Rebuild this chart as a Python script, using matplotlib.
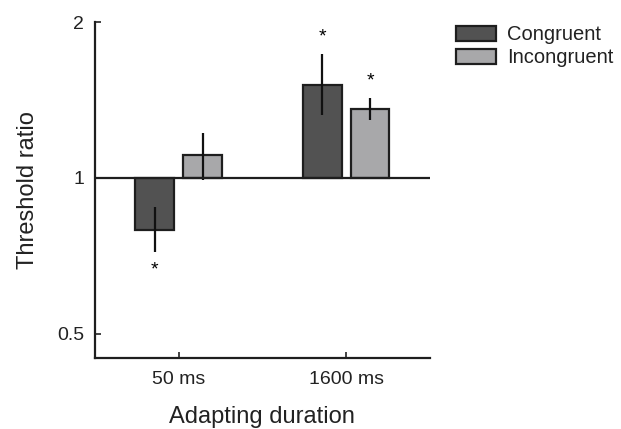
import matplotlib
matplotlib.use("Agg")
import matplotlib.pyplot as plt
import numpy as np
from matplotlib.patches import Patch

durations = ["50 ms", "1600 ms"]
conditions = ["Congruent", "Incongruent"]
congruent = [0.794, 1.512]
incongruent = [1.107, 1.359]
congruent_err_lo = [0.720, 1.323]
congruent_err_hi = [0.879, 1.735]
incongruent_err_lo = [0.99, 1.294]
incongruent_err_hi = [1.221, 1.427]
congruent_sig = [True, True]
incongruent_sig = [False, True]

plt.rcParams['font.family'] = ['Liberation Sans', 'DejaVu Sans']

fig = plt.figure(figsize=(6.21, 4.29), dpi=100)
ax = fig.add_axes([0.153, 0.1655, 0.539, 0.7832])
ax.set_yscale('log', base=2)

x = np.arange(1, len(durations) + 1)
w = 0.232
off = 0.143
cols = ['#525252', '#a8a8aa']
edge = '#1e1e1e'

for vals, lo, hi, sig, dx, c in [
    (congruent, congruent_err_lo, congruent_err_hi, congruent_sig, -off, cols[0]),
    (incongruent, incongruent_err_lo, incongruent_err_hi, incongruent_sig, off, cols[1]),
]:
    vals = np.array(vals)
    xs = x + dx
    ax.bar(xs, vals - 1, bottom=1, width=w, color=c, edgecolor=edge, linewidth=1.6, zorder=2)
    ax.vlines(xs, lo, hi, color='#111111', linewidth=1.6, zorder=3)
    for xi, l, h, v, s in zip(xs, lo, hi, vals, sig):
        if s:
            if v >= 1:
                ax.text(xi, h * 1.04, '*', ha='center', va='bottom', fontsize=14)
            else:
                ax.text(xi, l / 1.045, '*', ha='center', va='top', fontsize=14)

ax.axhline(1, color='#1e1e1e', linewidth=1.6, zorder=4)
ax.set_xlim(0.5, 2.5)
ax.set_ylim(0.449, 2.0)
ax.set_yticks([0.5, 1, 2])
ax.set_yticklabels(['0.5', '1', '2'])
ax.yaxis.set_minor_locator(matplotlib.ticker.NullLocator())
ax.set_xticks(x)
ax.set_xticklabels(durations)
ax.tick_params(direction='in', length=4, width=1.2, labelsize=14, colors='#222222')
ax.tick_params(axis='y', pad=8)
ax.tick_params(axis='x', pad=9)
for s in ['top', 'right']:
    ax.spines[s].set_visible(False)
for s in ['left', 'bottom']:
    ax.spines[s].set_linewidth(1.6)
    ax.spines[s].set_color('#1e1e1e')

ax.set_ylabel('Threshold ratio', fontsize=17, labelpad=13, color='#222222')
ax.set_xlabel('Adapting duration', fontsize=17, labelpad=13, color='#222222')

handles = [Patch(facecolor=cols[0], edgecolor=edge, linewidth=1.6),
           Patch(facecolor=cols[1], edgecolor=edge, linewidth=1.6)]
fig.legend(handles, conditions, loc='upper left', bbox_to_anchor=(0.721, 0.96),
           frameon=False, fontsize=14.5, handlelength=2.0, handleheight=0.8,
           handletextpad=0.55, labelspacing=0.2, borderaxespad=0, labelcolor='#222222')

fig.savefig('out.png', dpi=100)
